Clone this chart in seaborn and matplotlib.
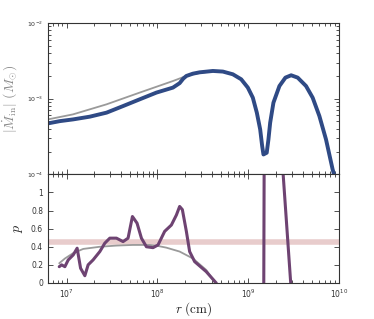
import numpy as np
import pandas as pd
import matplotlib
matplotlib.use("Agg")
import matplotlib.pyplot as plt
import seaborn as sns
from matplotlib.ticker import LogLocator, NullFormatter

sns.set_style("ticks")
plt.rcParams["mathtext.fontset"] = "cm"
plt.rcParams["font.family"] = ["DejaVu Sans"]

# top panel: |Mdot_in| vs r  (log10 values)
logr_mdot = [6.795, 6.926, 7.073, 7.256, 7.44, 7.622, 7.805, 7.989, 8.171, 8.245,
             8.285, 8.319, 8.39, 8.465, 8.611, 8.721, 8.831, 8.923, 8.996, 9.051, 9.095, 9.132,
             9.154, 9.168, 9.204, 9.223, 9.242, 9.278, 9.344, 9.41, 9.473, 9.545,
             9.637, 9.71, 9.784, 9.857, 9.93, 9.97]
logm_mdot = [-3.327, -3.297, -3.274, -3.238, -3.185, -3.098, -3.009, -2.92, -2.854, -2.795,
             -2.735, -2.7, -2.67, -2.652, -2.634, -2.642, -2.678, -2.744, -2.854, -2.987, -3.185, -3.407,
             -3.628, -3.738, -3.715, -3.539, -3.318, -3.053, -2.833, -2.722, -2.691, -2.722,
             -2.833, -2.987, -3.23, -3.539, -3.936, -4.1]
logr_mdot_ref = [6.795, 7.07, 7.44, 7.805, 8.171, 8.319, 8.465, 8.6]
logm_mdot_ref = [-3.274, -3.208, -3.075, -2.92, -2.767, -2.7, -2.66, -2.64]

# bottom panel: p vs r
logr_p = [6.919, 6.945, 6.981, 7.018, 7.073, 7.116, 7.154, 7.201, 7.237, 7.292,
          7.366, 7.421, 7.476, 7.549, 7.622, 7.677, 7.725, 7.776, 7.824, 7.879,
          7.952, 8.007, 8.08, 8.154, 8.209, 8.245, 8.275, 8.319, 8.355, 8.41,
          8.538, 8.648, 8.70, 9.17, 9.178, 9.36, 9.48, 9.6]
p_vals = [0.18, 0.20, 0.18, 0.255, 0.31, 0.384, 0.163, 0.08, 0.20, 0.255,
          0.347, 0.44, 0.495, 0.495, 0.457, 0.495, 0.734, 0.66, 0.495, 0.40,
          0.39, 0.42, 0.57, 0.64, 0.75, 0.845, 0.81, 0.57, 0.347, 0.236,
          0.125, 0.0, -0.3, -0.5, 2.0, 1.56, -0.17, -1.0]
logr_p_ref = [6.919, 6.981, 7.073, 7.183, 7.366, 7.549, 7.728, 7.915, 8.0, 8.099,
              8.245, 8.392, 8.538, 8.629, 8.65]
p_ref = [0.218, 0.27, 0.33, 0.376, 0.40, 0.413, 0.42, 0.42, 0.41, 0.39,
         0.347, 0.27, 0.144, 0.01, -0.05]
p_crit = 0.45

top = pd.DataFrame({"r": 10 ** np.array(logr_mdot), "m": 10 ** np.array(logm_mdot)})
top_ref = pd.DataFrame({"r": 10 ** np.array(logr_mdot_ref), "m": 10 ** np.array(logm_mdot_ref)})
bot = pd.DataFrame({"r": 10 ** np.array(logr_p), "p": p_vals})
bot_ref = pd.DataFrame({"r": 10 ** np.array(logr_p_ref), "p": p_ref})

fig = plt.figure(figsize=(3.74, 3.19), dpi=100)
ax1 = fig.add_axes([0.1283, 0.4536, 0.7781, 0.4743])
ax2 = fig.add_axes([0.1283, 0.1129, 0.7781, 0.3407])

sns.lineplot(data=top_ref, x="r", y="m", ax=ax1, color="#9a9a9a", lw=1.3,
             estimator=None, sort=False)
sns.lineplot(data=top, x="r", y="m", ax=ax1, color="#2f4a85", lw=2.8,
             estimator=None, sort=False)

ax2.axhline(p_crit, color="#e8cccc", lw=4, zorder=1)
sns.lineplot(data=bot_ref, x="r", y="p", ax=ax2, color="#9a9a9a", lw=1.3,
             estimator=None, sort=False)
sns.lineplot(data=bot, x="r", y="p", ax=ax2, color="#6e4372", lw=2.2,
             estimator=None, sort=False)

xlo, xhi = 10 ** 6.795, 1e10
for ax in (ax1, ax2):
    ax.set_xscale("log")
    ax.set_xlim(xlo, xhi)
    ax.tick_params(which="both", direction="in", top=True, right=True,
                   labelsize=5.5, colors="#333333", width=0.6)
    ax.tick_params(which="major", length=3.5)
    ax.tick_params(which="minor", length=2)
    ax.xaxis.set_major_locator(LogLocator(base=10, numticks=10))
    ax.xaxis.set_minor_locator(LogLocator(base=10, subs=np.arange(2, 10), numticks=10))
    for s in ax.spines.values():
        s.set_color("#333333")
        s.set_linewidth(0.8)

ax1.set_yscale("log")
ax1.set_ylim(1e-4, 1e-2)
ax1.tick_params(labelsize=4.5)
ax1.xaxis.set_major_formatter(NullFormatter())
ax1.xaxis.set_minor_formatter(NullFormatter())
ax1.set_xlabel("")
ax1.set_ylabel(r"$|\dot{M}_{\rm in}|\ (M_{\odot})$", fontsize=10, color="#888888", labelpad=6)

ax2.set_ylim(0, 1.2)
ax2.set_yticks([0, 0.2, 0.4, 0.6, 0.8, 1.0])
ax2.set_yticklabels(["0", "0.2", "0.4", "0.6", "0.8", "1"])
ax2.set_ylabel(r"$p$", fontsize=10, labelpad=4)
ax2.set_xlabel(r"$r\ (\rm cm)$", fontsize=9.5, labelpad=0)

fig.savefig("out.png", dpi=100)
